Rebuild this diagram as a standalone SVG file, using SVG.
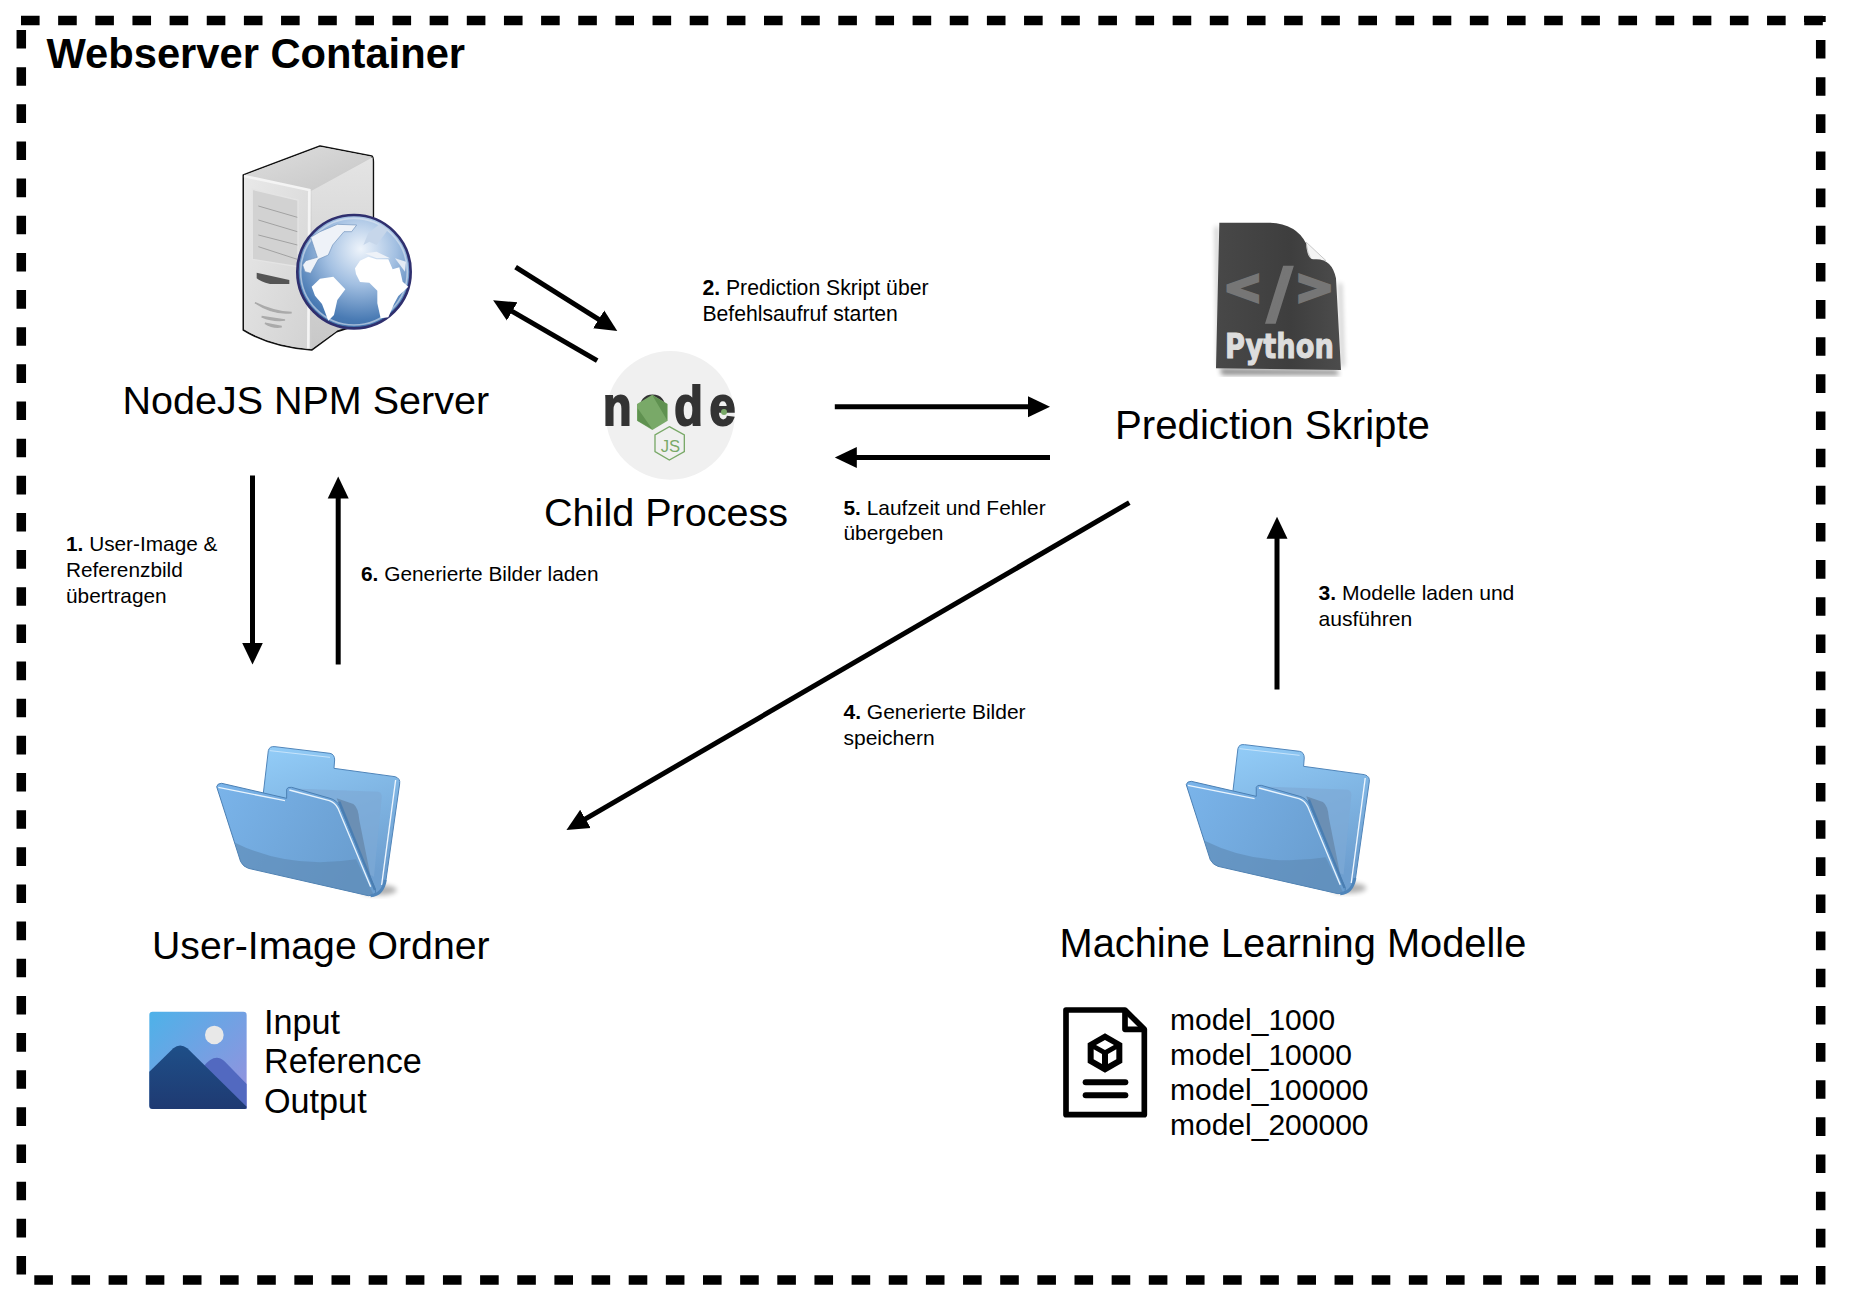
<svg xmlns="http://www.w3.org/2000/svg" xmlns:xlink="http://www.w3.org/1999/xlink" width="1854" height="1300" viewBox="0 0 1854 1300">
<style>
text{font-family:"Liberation Sans",Arial,sans-serif;fill:#000}
.big{font-size:39.5px}
.small{font-size:21px}
.small tspan.b{font-weight:bold}
.list{font-size:34.2px}
.model{font-size:30px}
.border{stroke:#000;stroke-width:9.5;stroke-dasharray:18.6 18.55;fill:none}
.conn{stroke:#000;stroke-width:5;fill:none;marker-end:url(#head)}
</style>
<defs>
<marker id="head" markerUnits="userSpaceOnUse" markerWidth="24" markerHeight="24" refX="1" refY="11" orient="auto"><path d="M0,0.5 L22,11 L0,21.5 Z" fill="#000"/></marker>
<filter id="blur" x="-30%" y="-30%" width="160%" height="160%"><feGaussianBlur stdDeviation="8"/></filter>
<linearGradient id="srvTop" x1="0" y1="0" x2="1" y2="1"><stop offset="0" stop-color="#dedede"/><stop offset="1" stop-color="#c6c6c6"/></linearGradient>
<linearGradient id="srvFront" x1="0" y1="0" x2="1" y2="1"><stop offset="0" stop-color="#e9e9e9"/><stop offset="1" stop-color="#d2d2d2"/></linearGradient>
<linearGradient id="srvSide" x1="0" y1="0" x2="0" y2="1"><stop offset="0" stop-color="#e4e4e4"/><stop offset="1" stop-color="#c8c8c8"/></linearGradient>
<radialGradient id="globe" cx="0.56" cy="0.3" r="0.78"><stop offset="0" stop-color="#eef4fb"/><stop offset="0.4" stop-color="#a3c0e2"/><stop offset="0.8" stop-color="#4a7bb4"/><stop offset="1" stop-color="#3a6aa3"/></radialGradient>
<linearGradient id="fBack" x1="0" y1="0" x2="0.3" y2="1"><stop offset="0" stop-color="#93cdf8"/><stop offset="1" stop-color="#6e9fd0"/></linearGradient>
<linearGradient id="fFront" x1="0" y1="0" x2="1" y2="0.4"><stop offset="0" stop-color="#7ab4ea"/><stop offset="1" stop-color="#6a9ed0"/></linearGradient>
<linearGradient id="img" x1="0" y1="0" x2="1" y2="1"><stop offset="0" stop-color="#4db2e9"/><stop offset="1" stop-color="#9a8fdd"/></linearGradient>
<linearGradient id="mtn" x1="0" y1="0" x2="0" y2="1"><stop offset="0" stop-color="#1e4f88"/><stop offset="1" stop-color="#1f3a72"/></linearGradient>
<linearGradient id="doc" x1="0" y1="0" x2="1" y2="0"><stop offset="0" stop-color="#484848"/><stop offset="0.6" stop-color="#3e3e3e"/><stop offset="1" stop-color="#4c4c4c"/></linearGradient>
<g id="folder">
<ellipse cx="745" cy="480" rx="55" ry="16" fill="#000" opacity="0.3" filter="url(#blur)"/>
<path d="M415,62 Q418,48 435,50 L600,70 Q614,73 614,90 L612,115 L795,140 Q812,145 809,162 L768,450 Q758,492 730,497 L600,400 L400,190 Z" fill="url(#fBack)" stroke="#4f85ba" stroke-width="3"/>
<path d="M420,62 L600,82" stroke="#c7e4fb" stroke-width="3" fill="none"/>
<path d="M470,175 L745,185 Q757,188 755,205 L732,440 L650,400 Z" fill="#7da9d6" opacity="0.7"/>
<path d="M620,205 L670,222 Q685,232 688,270 L730,480 Z" fill="#6b8fb4"/>
<path d="M797,150 L755,465" stroke="#f2f8fe" stroke-width="4" fill="none"/>
<path d="M260,170 Q262,160 275,160 L470,205 L470,178 Q472,170 485,172 L600,205 Q620,210 630,230 L737,480 Q740,497 715,497 L355,415 Q340,410 332,395 Z" fill="url(#fFront)" stroke="#4b7fb3" stroke-width="3"/>
<path d="M315,338 Q480,420 678,388 L730,492 L715,497 L355,415 Q340,410 332,395 Z" fill="#5e88b3" opacity="0.6"/>
<path d="M265,172 L465,212 M478,180 L598,212 Q615,218 624,235 L722,470" stroke="#e9f4fd" stroke-width="4" fill="none"/>
<path d="M628,215 L735,480" stroke="#4a7eb2" stroke-width="7" fill="none"/>
<path d="M722,497 Q758,495 766,450" stroke="#4f85ba" stroke-width="9" fill="none"/>
</g>
</defs>
<rect width="1854" height="1300" fill="#fff"/>

<g id="container">
<line class="border" x1="21" y1="20.5" x2="1822.8" y2="20.5"/>
<rect x="1804" y="16" width="21.7" height="6" fill="#000"/>
<line class="border" x1="21.3" y1="30" x2="21.3" y2="1274.5"/>
<line class="border" x1="1820.7" y1="40" x2="1820.7" y2="1285"/>
<line class="border" x1="34.3" y1="1280" x2="1798" y2="1280"/>
<text x="46.5" y="68" font-size="41.7" font-weight="bold">Webserver Container</text>
</g>

<g id="connectors">
<line class="conn" x1="515.6" y1="267.2" x2="599.5" y2="319.9"/>
<line class="conn" x1="597.2" y1="360.7" x2="511.3" y2="310.9"/>
<line class="conn" x1="834.8" y1="406.8" x2="1029" y2="406.8"/>
<line class="conn" x1="1050" y1="457.6" x2="855.8" y2="457.6"/>
<line class="conn" x1="1129.3" y1="502.6" x2="584.6" y2="819.4"/>
<line class="conn" x1="1277" y1="689.4" x2="1277" y2="537.8"/>
<line class="conn" x1="252.5" y1="475.4" x2="252.5" y2="643.6"/>
<line class="conn" x1="338.2" y1="664.6" x2="338.2" y2="497.5"/>
<text class="small" x="66" y="550.5" style="font-size:20.8px"><tspan class="b">1.</tspan> User-Image &amp;<tspan x="66" dy="26">Referenzbild</tspan><tspan x="66" dy="26">übertragen</tspan></text>
<text class="small" x="702.4" y="295.4" style="font-size:21.2px"><tspan class="b">2.</tspan> Prediction Skript über<tspan x="702.4" dy="26">Befehlsaufruf starten</tspan></text>
<text class="small" x="1318.5" y="599.5" style="font-size:21.1px"><tspan class="b">3.</tspan> Modelle laden und<tspan x="1318.5" dy="26">ausführen</tspan></text>
<text class="small" x="843.5" y="718.5"><tspan class="b">4.</tspan> Generierte Bilder<tspan x="843.5" dy="26">speichern</tspan></text>
<text class="small" x="843.5" y="515" style="font-size:20.9px"><tspan class="b">5.</tspan> Laufzeit und Fehler<tspan x="843.5" dy="25">übergeben</tspan></text>
<text class="small" x="361" y="580.6" style="font-size:20.85px"><tspan class="b">6.</tspan> Generierte Bilder laden</text>
</g>

<g id="node-server">
<g transform="translate(220,130) scale(0.3333)">
<path d="M70,135 L300,48 L455,78 Q460,82 460,95 L460,570 L350,605 L275,660 Q150,650 70,600 Z" fill="#ccc" stroke="#111" stroke-width="5" stroke-linejoin="round"/>
<path d="M72,136 L300,50 L456,80 L275,182 Z" fill="url(#srvTop)"/>
<path d="M72,136 L275,182 L268,657 Q150,645 72,598 Z" fill="url(#srvFront)"/>
<path d="M275,182 L458,82 L458,400 L350,603 L275,657 Z" fill="url(#srvSide)"/>
<path d="M72,138 L268,180 L265,655" stroke="#f4f4f4" stroke-width="8" fill="none"/>
<path d="M97,178 L234,210 L234,410 L97,388 Z" fill="#d2d2d2" stroke="#e4e4e4" stroke-width="4"/>
<path d="M115,228 L232,262 M115,270 L232,305 M115,315 L232,345 M115,350 L232,388" stroke="#a2a2a2" stroke-width="3" fill="none"/>
<path d="M110,428 L208,450 L208,462 L150,462 Q120,455 110,445 Z" fill="#555"/>
<path d="M105,518 Q160,555 215,548 Q160,545 105,518 Z M125,560 Q160,575 195,570 Q160,565 125,560 Z M135,580 Q160,595 185,590 Q160,585 135,580 Z" fill="#aaa" stroke="#aaa" stroke-width="5"/>
<circle cx="402" cy="425" r="170" fill="url(#globe)" stroke="#2f2f6e" stroke-width="8"/>
<circle cx="402" cy="425" r="160" fill="none" stroke="#dfe7f2" stroke-width="5" opacity="0.6"/>
<path d="M408,432 L405,415 L420,392 L445,380 L470,388 L505,388 L518,418 L538,412 L548,455 L565,470 L535,498 L522,522 L505,562 L482,565 L472,520 L472,482 L448,458 L420,456 Z" fill="#fff"/>
<path d="M275,470 L300,446 L340,440 L376,478 L352,510 L342,555 L325,572 L306,522 L285,497 Z" fill="#fff"/>
<path d="M248,405 L258,392 L292,382 L272,322 L300,305 L352,283 L410,285 L395,305 L372,305 L338,345 L325,375 L295,388 L272,430 L255,425 Z" fill="#eef2f8" stroke="#6f92bd" stroke-width="2"/>
<path d="M430,345 L445,310 L478,283 L505,298 L470,345 L448,335 Z" fill="#c6d6ea"/>
<path d="M435,370 L470,365 L510,385 L470,385 Z" fill="#eef2f8"/>
<path d="M525,385 L558,395 L555,425 L540,405 Z" fill="#e4ebf4"/>
</g>
<text class="big" x="122.5" y="414">NodeJS NPM Server</text>
</g>

<g id="node-child">
<g transform="translate(590,340) scale(0.3333)">
<circle cx="241" cy="226" r="193" fill="#f0f0f0"/>
<g transform="scale(0.85,1)"><text y="255" x="46 170 297 422" font-size="165" font-weight="bold" stroke="#333" stroke-width="6" style="fill:#333">node</text></g>
<path d="M187,164 L233,192 L233,242 L187,270 L141,242 L141,192 Z" fill="#79a968"/>
<path d="M143,205 L187,268 L143,242 Z M187,166 L231,240 L231,192 Z" fill="#5f9150"/>
<circle cx="402" cy="216" r="9" fill="#79a968"/>
<path d="M238,260 L283,285 L283,335 L238,360 L195,335 L195,285 Z" fill="none" stroke="#79a968" stroke-width="4"/>
<text x="212" y="336" font-size="50" style="fill:#79a968">JS</text>
</g>
<text class="big" x="544" y="526" style="font-size:39.6px">Child Process</text>
</g>

<g id="node-python">
<g transform="translate(1180,200) scale(0.3333)">
<path d="M120,505 L470,510 L478,525 L125,525 Z" fill="#000" opacity="0.45" filter="url(#blur)"/>
<path d="M110,80 L118,500 M480,250 L488,500" stroke="#000" stroke-width="8" opacity="0.3" filter="url(#blur)"/>
<path d="M378,126 L438,182 L395,182 Q382,160 378,126 Z" fill="#f4f4f4" stroke="#c8c8c8" stroke-width="3"/>
<path d="M118,68 H270 Q350,72 378,130 Q382,178 400,178 Q455,172 468,235 L483,510 L108,505 Z" fill="url(#doc)"/>
<text style="fill:#767676;stroke:#767676;stroke-width:10;font-family:'DejaVu Sans',sans-serif;font-weight:bold"><tspan x="130" y="308" font-size="140">&lt;</tspan><tspan x="262" y="347" font-size="200">/</tspan><tspan x="345" y="308" font-size="140">&gt;</tspan></text>
<text x="135" y="473" font-size="100" textLength="327" lengthAdjust="spacingAndGlyphs" style="fill:#ddd;stroke:#ddd;stroke-width:3;font-family:'DejaVu Sans',sans-serif;font-weight:bold">Python</text>
</g>
<text class="big" x="1115" y="439" style="font-size:40.2px">Prediction Skripte</text>
</g>

<g id="node-user-images">
<use xlink:href="#folder" href="#folder" transform="translate(130,730) scale(0.3333)"/>
<text class="big" x="152" y="959" style="font-size:39.2px">User-Image Ordner</text>
<g transform="translate(130,730) scale(0.3333)">
<rect x="58" y="845" width="292" height="292" rx="10" fill="url(#img)"/>
<circle cx="253" cy="915" r="28" fill="#e8e8e8"/>
<path d="M220,1010 Q255,965 285,995 L350,1062 L350,1137 L250,1137 Z" fill="#5269c0"/>
<path d="M58,1025 L130,955 Q150,938 172,955 L350,1130 Q350,1137 340,1137 L68,1137 Q58,1137 58,1127 Z" fill="url(#mtn)"/>
</g>
<text class="list" x="264" y="1034">Input</text>
<text class="list" x="264" y="1073">Reference</text>
<text class="list" x="264" y="1112.5">Output</text>
</g>

<g id="node-models">
<use xlink:href="#folder" href="#folder" transform="translate(1099.6,728) scale(0.3333)"/>
<text class="big" x="1059.5" y="957" style="font-size:39.8px">Machine Learning Modelle</text>
<g transform="translate(1050,980) scale(0.3333)">
<path d="M48,90 H225 L283,148 V404 H48 Z" fill="#fff" stroke="#000" stroke-width="17" stroke-linejoin="round"/>
<path d="M225,92 V148 H281" fill="none" stroke="#000" stroke-width="17" stroke-linejoin="round"/>
<path d="M165,160 L217,190 L217,248 L165,278 L113,248 L113,190 Z" fill="#000"/>
<path d="M165,180 L192,195 L165,210 L138,195 Z M131,208 L156,222 L156,252 L131,238 Z M174,222 L199,208 L199,238 L174,252 Z" fill="#fff"/>
<rect x="98" y="298" width="137" height="18" rx="9" fill="#000"/>
<rect x="98" y="337" width="137" height="18" rx="9" fill="#000"/>
</g>
<text class="model" x="1170" y="1030">model_1000</text>
<text class="model" x="1170" y="1064.8">model_10000</text>
<text class="model" x="1170" y="1099.8">model_100000</text>
<text class="model" x="1170" y="1134.8">model_200000</text>
</g>
</svg>
